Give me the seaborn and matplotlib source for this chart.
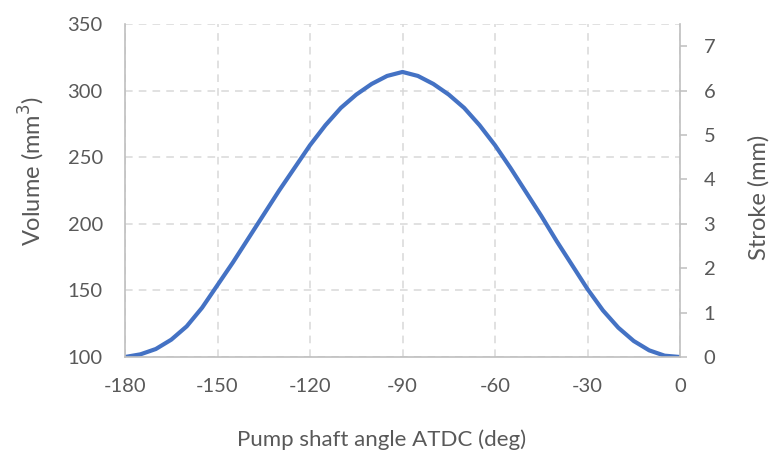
import pandas as pd
import numpy as np
import matplotlib
matplotlib.use('Agg')
import matplotlib.pyplot as plt
import seaborn as sns

# Values (5 deg steps)
angle = [-180, -175, -170, -165, -160, -155, -150, -145, -140, -135, -130,
         -125, -120, -115, -110, -105, -100, -95, -90, -85, -80, -75, -70,
         -65, -60, -55, -50, -45, -40, -35, -30, -25, -20, -15, -10, -5, 0]
volume = [100, 102, 106, 113, 123, 137, 154, 171, 189, 207, 225,
          242, 259, 274, 287, 297, 305, 311, 314, 311, 305, 297, 287,
          274, 259, 242, 224, 206, 187, 169, 151, 135, 122, 112, 105, 101, 100]

x_ticks = [-180, -150, -120, -90, -60, -30, 0]
vol_ticks = [100, 150, 200, 250, 300, 350]
stroke_ticks = [0, 1, 2, 3, 4, 5, 6, 7]

df = pd.DataFrame({'angle': angle, 'volume': volume})

sns.set_style("white")
plt.rcParams['font.family'] = ['Lato', 'DejaVu Sans']
plt.rcParams['axes.unicode_minus'] = False

text_col = '#595959'
grid_col = '#d9d9d9'
axis_col = '#bfbfbf'

W, H = 771, 451
fig = plt.figure(figsize=(W / 100, H / 100), dpi=100)
ax = fig.add_axes([125/W, 1 - 357/H, 555/W, 333/H])

sns.lineplot(data=df, x='angle', y='volume', ax=ax, color='#4472C4',
             linewidth=3.0, solid_capstyle='butt', solid_joinstyle='round')

ax.set_xlim(-180, 0)
ax.set_ylim(100, 350)
ax.set_xticks(x_ticks)
ax.set_yticks(vol_ticks)
ax.tick_params(axis='both', length=0, labelsize=14.5, labelcolor=text_col)
ax.tick_params(axis='x', pad=15)
ax.tick_params(axis='y', pad=16)
ax.grid(True, color=grid_col, linestyle=(0, (5, 4)), linewidth=1.1)
ax.set_axisbelow(True)
ax.set_xlabel('')
ax.set_ylabel('')

for s in ['top', 'right']:
    ax.spines[s].set_visible(False)
for s in ['left', 'bottom']:
    ax.spines[s].set_color(axis_col)
    ax.spines[s].set_linewidth(1.2)

# Secondary axis for stroke
ax2 = ax.twinx()
ax2.set_ylim(0, 7.5)
ax2.set_yticks(stroke_ticks)
ax2.tick_params(axis='y', length=5, width=1.1, color=axis_col, pad=12,
                labelsize=14.5, labelcolor=text_col)
for s in ['top', 'left', 'bottom']:
    ax2.spines[s].set_visible(False)
ax2.spines['right'].set_color(axis_col)
ax2.spines['right'].set_linewidth(1.2)
ax2.grid(False)

# Axis titles placed like the original chart
fig.text(382/W, 1 - 440/H, 'Pump shaft angle ATDC (deg)', fontsize=16,
         color=text_col, ha='center', va='center')
fig.text(32/W, 1 - 171/H, 'Volume (mm$^3$)', fontsize=17, rotation=90,
         color=text_col, ha='center', va='center')
fig.text(759/W, 1 - 197/H, 'Stroke (mm)', fontsize=17, rotation=90,
         color=text_col, ha='center', va='center')

fig.savefig('out.png', dpi=100)
